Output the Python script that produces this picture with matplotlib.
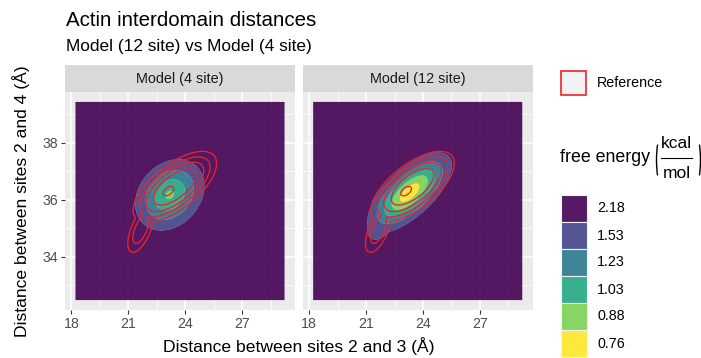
import matplotlib
matplotlib.use("Agg")
import matplotlib.pyplot as plt
import numpy as np
from matplotlib.patches import Rectangle, Arc

plt.rcParams["font.family"] = ["Liberation Sans", "DejaVu Sans"]

# grid extent of the free energy maps (Angstrom)
x_range = [18.21, 29.23]
y_range = [32.47, 39.44]

# free energy bins (kcal/mol), upper bounds, and viridis colours
fe_breaks = [0.76, 0.88, 1.03, 1.23, 1.53, 2.18]
fe_colors = ["#FDE725", "#7AD151", "#22A884", "#2A788E", "#414487", "#440154"]
edge_level = 1.53

# basin shapes:
# (minimum F, centre x, centre y, half-width x, half-height y at F=1.53, rho, profile power)
model4_basins = [(0.86, 23.18, 36.17, 1.82, 1.25, 0.25, 1.65)]
model12_basins = [(0.70, 23.30, 36.25, 2.22, 1.41, 0.68, 1.8),
                  (1.35, 21.70, 35.10, 0.65, 0.50, 0.30, 2.0)]
ref_basins = [(0.78, 23.45, 36.45, 2.20, 1.25, 0.66, 3.0),
              (0.70, 23.10, 36.30, 0.93, 0.55, 0.50, 2.0),
              (1.05, 21.65, 34.95, 0.68, 0.80, 0.60, 2.0)]

panels = [("Model (4 site)", model4_basins),
          ("Model (12 site)", model12_basins)]

x_ticks = [18, 21, 24, 27]
y_ticks = [34, 36, 38]

W, H = 701, 358
RED = "#ec2229"


def free_energy(X, Y, basins, soft=0.03):
    acc = np.zeros_like(X)
    for fmin, mx, my, sx, sy, r, pw in basins:
        dx = (X - mx) / sx
        dy = (Y - my) / sy
        d = np.sqrt((dx ** 2 - 2 * r * dx * dy + dy ** 2) / (1 - r ** 2))
        f = fmin + (edge_level - fmin) * d ** pw
        acc += np.exp(-(f - 0.7) / soft)
    f = 0.7 - soft * np.log(acc)
    return np.minimum(f, fe_breaks[-1] - 1e-3)


def px_box(left, top, right, bottom):
    return [left / W, 1 - bottom / H, (right - left) / W, (bottom - top) / H]


xs = np.linspace(x_range[0], x_range[1], 260)
ys = np.linspace(y_range[0], y_range[1], 260)
X, Y = np.meshgrid(xs, ys)
F_ref = free_energy(X, Y, ref_basins)

fig = plt.figure(figsize=(W / 100, H / 100), dpi=100)

panel_lefts = [65, 302.7]
for i, (name, basins) in enumerate(panels):
    left = panel_lefts[i]
    ax = fig.add_axes(px_box(left, 92, left + 230, 310))
    ax.set_facecolor("#EBEBEB")
    F = free_energy(X, Y, basins)
    ax.contourf(X, Y, F, levels=[0] + fe_breaks, colors=fe_colors, alpha=0.9,
                antialiased=True)
    ax.contour(X, Y, F_ref, levels=fe_breaks[:-1], colors=RED, linewidths=0.95)

    dx = (x_range[1] - x_range[0]) * 0.05
    dy = (y_range[1] - y_range[0]) * 0.05
    ax.set_xlim(x_range[0] - dx, x_range[1] + dx)
    ax.set_ylim(y_range[0] - dy, y_range[1] + dy)
    ax.set_xticks(x_ticks)
    ax.set_yticks(y_ticks)
    ax.set_xticks([19.5, 22.5, 25.5, 28.5], minor=True)
    ax.set_yticks([33, 35, 37, 39], minor=True)
    ax.grid(which="major", color="white", linewidth=1.1)
    ax.grid(which="minor", color="white", linewidth=0.55)
    ax.set_axisbelow(True)
    for s in ax.spines.values():
        s.set_visible(False)
    ax.tick_params(which="minor", length=0)
    ax.tick_params(which="major", length=2.9, width=0.8, color="#333333",
                   labelcolor="#4D4D4D", labelsize=10.2, pad=2.0)
    if i > 0:
        ax.tick_params(axis="y", left=False, labelleft=False)

    strip = fig.add_axes(px_box(left, 65, left + 230, 92))
    strip.set_facecolor("#D9D9D9")
    strip.set_xticks([])
    strip.set_yticks([])
    for s in strip.spines.values():
        s.set_visible(False)
    strip.text(0.5, 0.5, name, ha="center", va="center", fontsize=10.4,
               color="#1A1A1A", transform=strip.transAxes)

fig.text(66 / W, 1 - 26.5 / H, "Actin interdomain distances", fontsize=14.8,
         va="baseline", ha="left")
fig.text(66 / W, 1 - 51 / H, "Model (12 site) vs Model (4 site)", fontsize=12.4,
         va="baseline", ha="left")
fig.text(299 / W, 1 - 352 / H, "Distance between sites 2 and 3 (Å)",
         fontsize=12.6, ha="center", va="baseline")
fig.text(21 / W, 1 - 201 / H, "Distance between sites 2 and 4 (Å)",
         fontsize=12.6, ha="center", va="center", rotation=90)

# legend, drawn in pixel coordinates
leg = fig.add_axes([0, 0, 1, 1])
leg.set_xlim(0, W)
leg.set_ylim(H, 0)
leg.axis("off")
leg.add_patch(Rectangle((561, 70.5), 25, 24.5, facecolor="#F2F2F2",
                        edgecolor=RED, linewidth=1.2))
leg.text(597, 83, "Reference", fontsize=10.25, va="center", ha="left")

leg.text(560, 162, "free energy", fontsize=12.8, va="baseline", ha="left")
leg.text(676.5, 143, "kcal", fontsize=12.5, va="center", ha="center")
leg.text(676.5, 173, "mol", fontsize=12.5, va="center", ha="center")
leg.plot([661, 692], [158.3, 158.3], color="black", linewidth=0.8)
leg.add_patch(Arc((663.5, 160), 14, 58, theta1=111, theta2=249,
                  color="black", linewidth=1.0))
leg.add_patch(Arc((693.5, 160), 14, 58, theta1=-69, theta2=69,
                  color="black", linewidth=1.0))

key_h = 27
for j, (lab, col) in enumerate(zip(fe_breaks[::-1], fe_colors[::-1])):
    top = 195 + j * key_h
    leg.add_patch(Rectangle((560.5, top), 26, key_h, facecolor=col, alpha=0.9,
                            edgecolor="none"))
    leg.add_patch(Rectangle((560.5, top), 26, key_h, facecolor="none",
                            edgecolor="#F2F2F2", linewidth=0.8))
    leg.text(597, top + key_h / 2, f"{lab:.2f}", fontsize=10.25, va="center",
             ha="left")

fig.savefig("out.png", dpi=100)
